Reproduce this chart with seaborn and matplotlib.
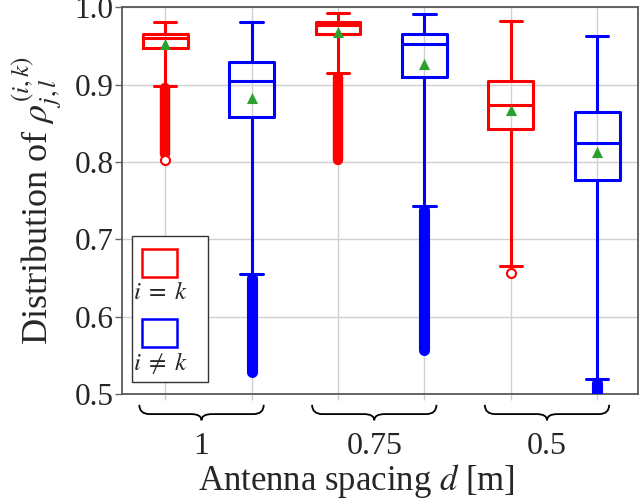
import numpy as np
import pandas as pd
import seaborn as sns
import matplotlib
matplotlib.use("Agg")
import matplotlib.pyplot as plt
from matplotlib.path import Path
from matplotlib.patches import PathPatch, Rectangle
import matplotlib.transforms as mtransforms

# donnees
spacing_labels = ["1", "0.75", "0.5"]
kinds = ["i=k", "i!=k"]
box_names = ["1 i=k", "1 i!=k", "0.75 i=k", "0.75 i!=k", "0.5 i=k", "0.5 i!=k"]
box_kind = ["i=k", "i!=k", "i=k", "i!=k", "i=k", "i!=k"]

whisker_low = [0.898, 0.655, 0.915, 0.743, 0.665, 0.520]
q1 = [0.947, 0.858, 0.965, 0.910, 0.843, 0.777]
median = [0.960, 0.904, 0.977, 0.952, 0.873, 0.825]
q3 = [0.966, 0.929, 0.981, 0.966, 0.905, 0.864]
whisker_high = [0.981, 0.981, 0.992, 0.991, 0.982, 0.963]
means = [0.952, 0.883, 0.968, 0.926, 0.867, 0.813]

# zone continue des outliers (haut / bas)
flier_top = [0.895, 0.650, 0.910, 0.738, np.nan, 0.514]
flier_bottom = [0.810, 0.528, 0.802, 0.557, np.nan, 0.490]
# outlier isole en bas
flier_low = [0.802, np.nan, np.nan, np.nan, 0.656, np.nan]

couleurs = {"i=k": "#ff0000", "i!=k": "#0000ff"}

rows = []
for i, nom in enumerate(box_names):
    for v in (whisker_low[i], q1[i], median[i], q3[i], whisker_high[i]):
        rows.append({"box": nom, "kind": box_kind[i], "value": v})
df = pd.DataFrame(rows)

sns.set_style("whitegrid")
plt.rcParams["font.family"] = ["Liberation Serif", "DejaVu Serif"]
plt.rcParams["mathtext.fontset"] = "stix"

fig = plt.figure(figsize=(6.39, 5.01), dpi=100)
ax = fig.add_axes([0.191, 0.2136, 0.807, 0.772])

sns.boxplot(data=df, x="box", y="value", hue="kind", order=box_names,
            palette=couleurs, fill=False, dodge=False, whis=(0, 100),
            width=0.52, linewidth=2.2, showfliers=False, legend=False, ax=ax)

pos = np.arange(len(box_names))
for i in range(len(box_names)):
    c = couleurs[box_kind[i]]
    if not np.isnan(flier_top[i]):
        ax.vlines(pos[i], flier_bottom[i], flier_top[i], color=c,
                  linewidth=8 if box_kind[i] == "i!=k" else 7.5,
                  capstyle="round", zorder=3)
    if not np.isnan(flier_low[i]):
        ax.plot(pos[i], flier_low[i], "o", ms=6.5, mfc="white", mec=c,
                mew=1.5, zorder=4)

sns.stripplot(x=box_names, y=means, order=box_names, jitter=False,
              marker="^", color="#2ca02c", size=8, zorder=5, ax=ax)

ax.set_xlim(-0.5, 5.47)
ax.set_ylim(0.5, 1.0)
ax.set_yticks([0.5, 0.6, 0.7, 0.8, 0.9, 1.0])
ax.set_yticklabels(["0.5", "0.6", "0.7", "0.8", "0.9", "1.0"])
ax.tick_params(axis="y", left=True, length=5, width=1, color="0.4",
               labelsize=22.5, pad=1)
ax.tick_params(axis="x", bottom=True, length=4, width=1, color="0.8",
               labelbottom=False)
ax.set_xlabel("")
ax.set_ylabel("")
ax.grid(True, color="0.82", linewidth=1)
for s in ax.spines.values():
    s.set_color("0.35")
    s.set_linewidth(1.3)

# accolades sous chaque groupe
trans = mtransforms.blended_transform_factory(ax.transData, ax.transAxes)
for g, lab in enumerate(spacing_labels):
    xc = pos[2 * g:2 * g + 2].mean() - 0.08
    hw = 0.72
    yt, ym, yb = -0.028, -0.052, -0.068
    r = 0.12
    verts = [(xc - hw, yt), (xc - hw, ym), (xc - hw + r, ym),
             (xc - r, ym), (xc, ym), (xc, yb),
             (xc, ym), (xc + r, ym),
             (xc + hw - r, ym), (xc + hw, ym), (xc + hw, yt)]
    codes = [Path.MOVETO, Path.CURVE3, Path.CURVE3,
             Path.LINETO, Path.CURVE3, Path.CURVE3,
             Path.CURVE3, Path.CURVE3,
             Path.LINETO, Path.CURVE3, Path.CURVE3]
    ax.add_patch(PathPatch(Path(verts, codes), transform=trans, fill=False,
                           lw=1.3, color="black", clip_on=False))
    ax.text(xc, -0.135, lab, transform=trans, ha="center", va="center",
            fontsize=23)

fig.text(356 / 639, 1 - 481 / 501, r"Antenna spacing $d$ [m]", ha="center",
         va="center", fontsize=25)
fig.text(37 / 639, 1 - 201 / 501, r"Distribution of $\rho_{j,l}^{(i,k)}$",
         ha="center", va="center", rotation=90, fontsize=26)

# legende faite a la main
def px(x, y):
    return ((x - 122) / 517, (394 - y) / 387)

x0, y0 = px(132, 382)
x1, y1 = px(208, 236)
ax.add_patch(Rectangle((x0, y0), x1 - x0, y1 - y0, transform=ax.transAxes,
                       facecolor="white", edgecolor="0.2", lw=1, zorder=6))
for k, (ytop, ylab, lab) in enumerate([(249, 293, r"$i\;=\;k$"),
                                        (319, 363, r"$i\;\neq\;k$")]):
    a0, b0 = px(142, ytop + 28)
    a1, b1 = px(177, ytop)
    ax.add_patch(Rectangle((a0, b0), a1 - a0, b1 - b0, transform=ax.transAxes,
                           facecolor="white", edgecolor=couleurs[kinds[k]],
                           lw=1.8, zorder=7))
    tx, ty = px(160, ylab)
    ax.text(tx, ty, lab, transform=ax.transAxes, ha="center", va="center",
            fontsize=18, zorder=8)

plt.savefig("out.png", dpi=100)
